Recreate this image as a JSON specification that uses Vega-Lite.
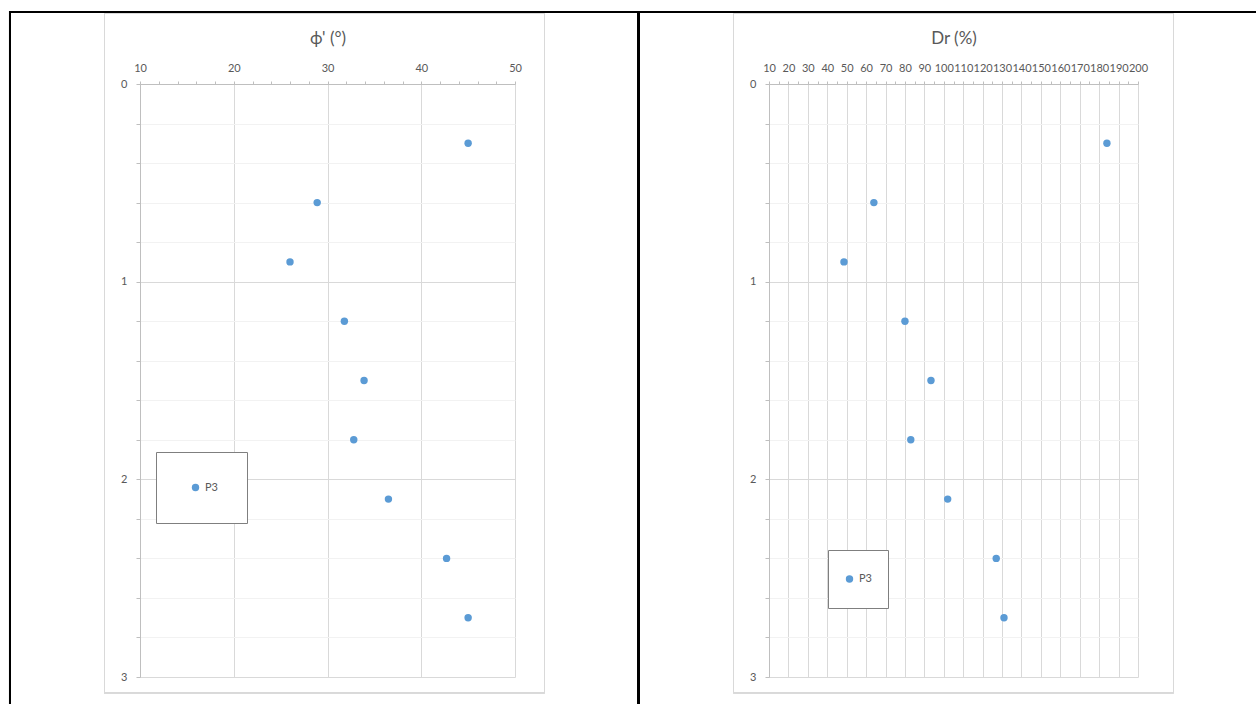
{
  "$schema": "https://vega.github.io/schema/vega-lite/v6.json",
  "autosize": {"type": "pad"},
  "padding": {"left": 8, "top": 10, "right": 0, "bottom": 0},
  "background": "white",
  "bounds": "flush",
  "spacing": 254,
  "resolve": {"scale": {"color": "independent"}, "legend": {"color": "independent"}},
  "config": {
    "font": "Lato",
    "view": {"stroke": null},
    "axis": {
      "labelFont": "Lato",
      "labelFontSize": 11,
      "labelColor": "#595959",
      "domainColor": "#bfbfbf",
      "tickColor": "#bfbfbf",
      "gridColor": "#d9d9d9",
      "labelFlush": false,
      "labelOverlap": false,
      "titleFont": "Lato",
      "titleFontSize": 17,
      "titleFontWeight": "normal",
      "titleColor": "#595959"
    }
  },
  "datasets": {
    "phi": [
      {"depth": 0.3, "phi": 45.0, "series": "P3"},
      {"depth": 0.6, "phi": 28.9, "series": "P3"},
      {"depth": 0.9, "phi": 26.0, "series": "P3"},
      {"depth": 1.2, "phi": 31.8, "series": "P3"},
      {"depth": 1.5, "phi": 33.9, "series": "P3"},
      {"depth": 1.8, "phi": 32.8, "series": "P3"},
      {"depth": 2.1, "phi": 36.5, "series": "P3"},
      {"depth": 2.4, "phi": 42.7, "series": "P3"},
      {"depth": 2.7, "phi": 45.0, "series": "P3"}
    ],
    "dr": [
      {"depth": 0.3, "dr": 184, "series": "P3"},
      {"depth": 0.6, "dr": 64, "series": "P3"},
      {"depth": 0.9, "dr": 48.6, "series": "P3"},
      {"depth": 1.2, "dr": 80, "series": "P3"},
      {"depth": 1.5, "dr": 93.4, "series": "P3"},
      {"depth": 1.8, "dr": 83, "series": "P3"},
      {"depth": 2.1, "dr": 102, "series": "P3"},
      {"depth": 2.4, "dr": 127, "series": "P3"},
      {"depth": 2.7, "dr": 131, "series": "P3"}
    ]
  },
  "hconcat": [
    {
      "width": 375,
      "height": 593,
      "data": {"name": "phi"},
      "layer": [
        {
          "mark": {"type": "point", "opacity": 0},
          "encoding": {
            "x": {"field": "phi", "type": "quantitative", "scale": {"domain": [10, 50], "nice": false, "zero": false},
              "axis": {"orient": "top", "values": [12,14,16,18,22,24,26,28,32,34,36,38,42,44,46,48], "labels": false, "domain": false, "grid": false, "ticks": true, "tickSize": 3, "title": null}},
            "y": {"field": "depth", "type": "quantitative", "scale": {"domain": [0, 3], "reverse": true, "nice": false, "zero": false},
              "axis": {"orient": "left", "values": [0.2,0.4,0.6,0.8,1.2,1.4,1.6,1.8,2.2,2.4,2.6,2.8], "labels": false, "domain": false, "grid": true, "gridColor": "#f2f2f2", "ticks": true, "tickSize": 4, "title": null}}
          }
        },
        {
          "mark": {"type": "rect", "filled": false, "color": "#d9d9d9", "strokeWidth": 1, "clip": false},
          "encoding": {
            "x": {"datum": 6.213, "type": "quantitative", "axis": null},
            "x2": {"datum": 53.147},
            "y": {"datum": -0.359, "type": "quantitative", "axis": null},
            "y2": {"datum": 3.081}
          }
        },
        {
          "mark": {"type": "rule", "color": "black", "strokeWidth": 2, "clip": false},
          "encoding": {
            "x": {"datum": -3.867, "type": "quantitative", "axis": null},
            "x2": {"datum": 63.173},
            "y": {"datum": -0.3642, "type": "quantitative", "axis": null}
          }
        },
        {
          "mark": {"type": "rule", "color": "black", "strokeWidth": 2, "clip": false},
          "encoding": {
            "x": {"datum": -3.867, "type": "quantitative", "axis": null},
            "y": {"datum": -0.3692, "type": "quantitative", "axis": null},
            "y2": {"datum": 3.3}
          }
        },
        {
          "mark": {"type": "rule", "color": "black", "strokeWidth": 2, "clip": false},
          "encoding": {
            "x": {"datum": 63.173, "type": "quantitative", "axis": null},
            "y": {"datum": -0.3692, "type": "quantitative", "axis": null},
            "y2": {"datum": 3.3}
          }
        },
        {
          "mark": {"type": "point", "filled": true, "opacity": 1, "size": 55},
          "encoding": {
            "x": {"field": "phi", "type": "quantitative", "scale": {"domain": [10, 50], "nice": false, "zero": false},
              "axis": {"orient": "top", "values": [10,20,30,40,50], "grid": true, "tickSize": 3, "labelPadding": 8, "title": "ϕ' (°)", "titlePadding": 15}},
            "y": {"field": "depth", "type": "quantitative", "scale": {"domain": [0, 3], "reverse": true, "nice": false, "zero": false},
              "axis": {"orient": "left", "values": [0,1,2,3], "grid": true, "tickSize": 4, "labelPadding": 9, "title": null}},
            "color": {"field": "series", "type": "nominal", "scale": {"range": ["#5b9bd5"]},
              "legend": {"title": null, "orient": "none", "legendX": 16, "legendY": 368, "strokeColor": "#7f7f7f", "fillColor": "white", "padding": 29, "clipHeight": 13, "symbolOffset": 5, "symbolType": "circle", "symbolSize": 55, "labelFontSize": 11, "labelColor": "#595959", "labelFont": "Lato"}}
          }
        }
      ],
      "resolve": {"axis": {"x": "independent", "y": "independent"}}
    },
    {
      "width": 369,
      "height": 593,
      "data": {"name": "dr"},
      "layer": [
        {
          "mark": {"type": "point", "opacity": 0},
          "encoding": {
            "x": {"field": "dr", "type": "quantitative", "scale": {"domain": [10, 200], "nice": false, "zero": false},
              "axis": {"orient": "top", "values": [15,25,35,45,55,65,75,85,95,105,115,125,135,145,155,165,175,185,195], "labels": false, "domain": false, "grid": false, "ticks": true, "tickSize": 3, "title": null}},
            "y": {"field": "depth", "type": "quantitative", "scale": {"domain": [0, 3], "reverse": true, "nice": false, "zero": false},
              "axis": {"orient": "left", "values": [0.2,0.4,0.6,0.8,1.2,1.4,1.6,1.8,2.2,2.4,2.6,2.8], "labels": false, "domain": false, "grid": true, "gridColor": "#f2f2f2", "ticks": true, "tickSize": 4, "title": null}}
          }
        },
        {
          "mark": {"type": "rect", "filled": false, "color": "#d9d9d9", "strokeWidth": 1, "clip": false},
          "encoding": {
            "x": {"datum": -8.279, "type": "quantitative", "axis": null},
            "x2": {"datum": 218.28},
            "y": {"datum": -0.359, "type": "quantitative", "axis": null},
            "y2": {"datum": 3.081}
          }
        },
        {
          "mark": {"type": "rule", "color": "black", "strokeWidth": 2, "clip": false},
          "encoding": {
            "x": {"datum": -57.195, "type": "quantitative", "axis": null},
            "x2": {"datum": 262},
            "y": {"datum": -0.3642, "type": "quantitative", "axis": null}
          }
        },
        {
          "mark": {"type": "point", "filled": true, "opacity": 1, "size": 55},
          "encoding": {
            "x": {"field": "dr", "type": "quantitative", "scale": {"domain": [10, 200], "nice": false, "zero": false},
              "axis": {"orient": "top", "values": [10,20,30,40,50,60,70,80,90,100,110,120,130,140,150,160,170,180,190,200], "grid": true, "tickSize": 3, "labelPadding": 8, "title": "Dr (%)", "titlePadding": 15}},
            "y": {"field": "depth", "type": "quantitative", "scale": {"domain": [0, 3], "reverse": true, "nice": false, "zero": false},
              "axis": {"orient": "left", "values": [0,1,2,3], "grid": true, "tickSize": 4, "labelPadding": 9, "title": null}},
            "color": {"field": "series", "type": "nominal", "scale": {"range": ["#5b9bd5"]},
              "legend": {"title": null, "orient": "none", "legendX": 59, "legendY": 466, "strokeColor": "#7f7f7f", "fillColor": "white", "padding": 16, "clipHeight": 26, "symbolType": "circle", "symbolSize": 55, "labelFontSize": 11, "labelColor": "#595959", "labelFont": "Lato"}}
          }
        }
      ],
      "resolve": {"axis": {"x": "independent", "y": "independent"}}
    }
  ]
}
